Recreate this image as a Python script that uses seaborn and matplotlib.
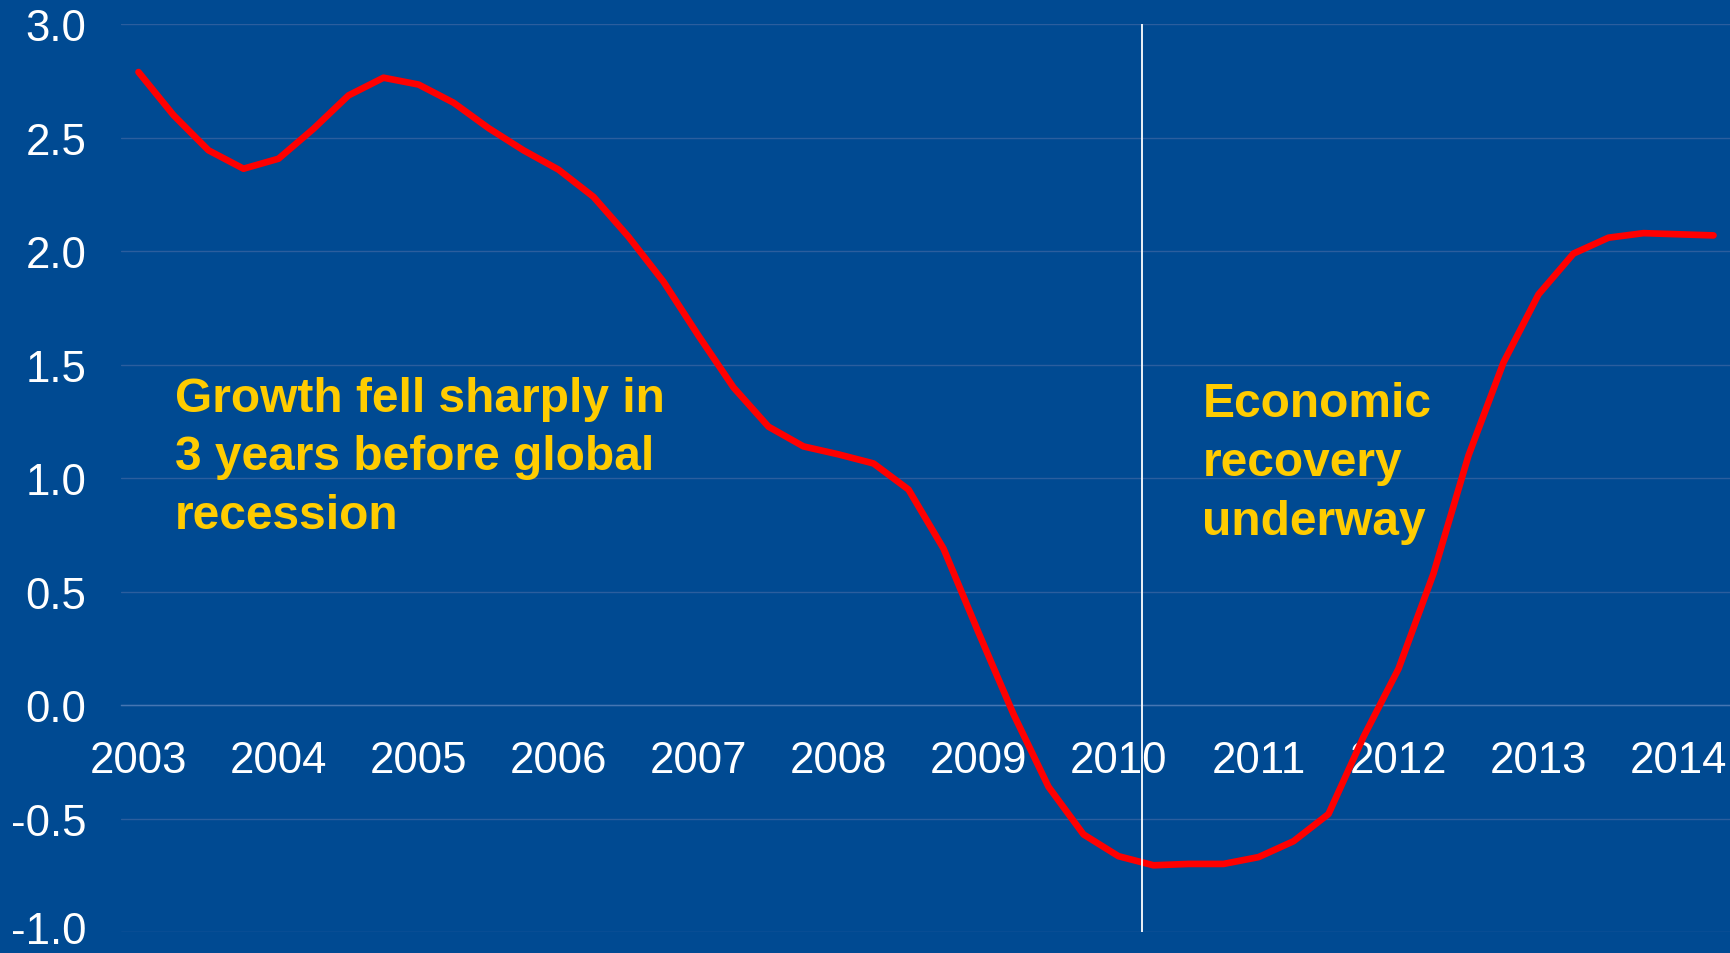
import matplotlib
matplotlib.use("Agg")
import matplotlib.pyplot as plt
import seaborn as sns
import numpy as np
import pandas as pd

# Quarterly growth, 2003 Q1 to 2014 Q2
quarters = pd.period_range("2003Q1", "2014Q2", freq="Q").astype(str).tolist()
growth = [
    2.79, 2.60, 2.445, 2.364,   # 2003
    2.408, 2.54, 2.687, 2.765,  # 2004
    2.735, 2.655, 2.543, 2.445, # 2005
    2.36, 2.24, 2.064, 1.866,   # 2006
    1.628, 1.40, 1.227, 1.14,   # 2007
    1.105, 1.065, 0.95, 0.69,   # 2008
    0.32, -0.04, -0.36, -0.57,  # 2009
    -0.666, -0.706, -0.70, -0.70,  # 2010
    -0.67, -0.60, -0.48, -0.14,    # 2011
    0.16, 0.58, 1.10, 1.51,     # 2012
    1.81, 1.99, 2.06, 2.08,     # 2013
    2.075, 2.07,                # 2014
]
year_labels = [str(y) for y in range(2003, 2015)]
y_ticks = [-1.0, -0.5, 0.0, 0.5, 1.0, 1.5, 2.0, 2.5, 3.0]
recovery_start = 28.67  # position (in quarters) of the divider

note_left = "Growth fell sharply in\n3 years before global\nrecession"
note_right = "Economic\nrecovery\nunderway"

BG = "#004A92"
GRID = "#2B5E9E"
AXIS = "#4576B3"
YELLOW = "#FFCC00"

sns.set_style("white")
plt.rcParams["font.family"] = ["Liberation Sans", "DejaVu Sans"]

df = pd.DataFrame({"q": np.arange(len(growth)), "growth": growth, "quarter": quarters})

fig = plt.figure(figsize=(17.31, 9.54), dpi=100, facecolor=BG)
ax = fig.add_axes([121 / 1731, 21 / 954, 1 - 121 / 1731, (933 - 25.4) / 954])
ax.set_facecolor(BG)

sns.lineplot(data=df, x="q", y="growth", color="#FF0000", linewidth=4.8, ax=ax,
             zorder=3)
ax.axvline(recovery_start, color="white", linewidth=1.3, zorder=4)

ax.set_xlim(-0.5, len(growth) - 0.5)
ax.set_ylim(-1.0, 3.0)

# horizontal grid
ax.set_yticks(y_ticks)
ax.set_yticklabels([f"{v:.1f}" for v in y_ticks])
ax.yaxis.grid(True, color=GRID, linewidth=1.0, zorder=0)
ax.xaxis.grid(False)
ax.tick_params(axis="y", length=0, pad=25, labelsize=31.5, labelcolor="white")
# keep the lowest label inside the canvas
ax.get_yticklabels()[0].set_verticalalignment("center")

# x axis sits on the zero line; labels on Q1, ticks on year boundaries
for side in ["left", "right", "top"]:
    ax.spines[side].set_visible(False)
ax.spines["bottom"].set_position(("data", 0))
ax.spines["bottom"].set_color(AXIS)
ax.spines["bottom"].set_linewidth(1.0)

ax.set_xticks(np.arange(0, len(growth), 4))
ax.set_xticklabels(year_labels)
ax.set_xticks(np.arange(-0.5, len(growth) - 1, 4), minor=True)
ax.tick_params(axis="x", which="major", length=0, pad=25, labelsize=31.5,
               labelcolor="white")
ax.tick_params(axis="x", which="minor", length=9, width=1.0, color=AXIS,
               direction="out")
ax.set_xlabel("")
ax.set_ylabel("")

ax.text(1.04, 1.45, note_left, color=YELLOW, fontsize=34.5, fontweight="bold",
        va="top", ha="left", linespacing=1.38, zorder=5)
ax.text(30.4, 1.43, note_right, color=YELLOW, fontsize=34.5, fontweight="bold",
        va="top", ha="left", linespacing=1.40, zorder=5)

fig.savefig("out.png", dpi=100, facecolor=BG)
